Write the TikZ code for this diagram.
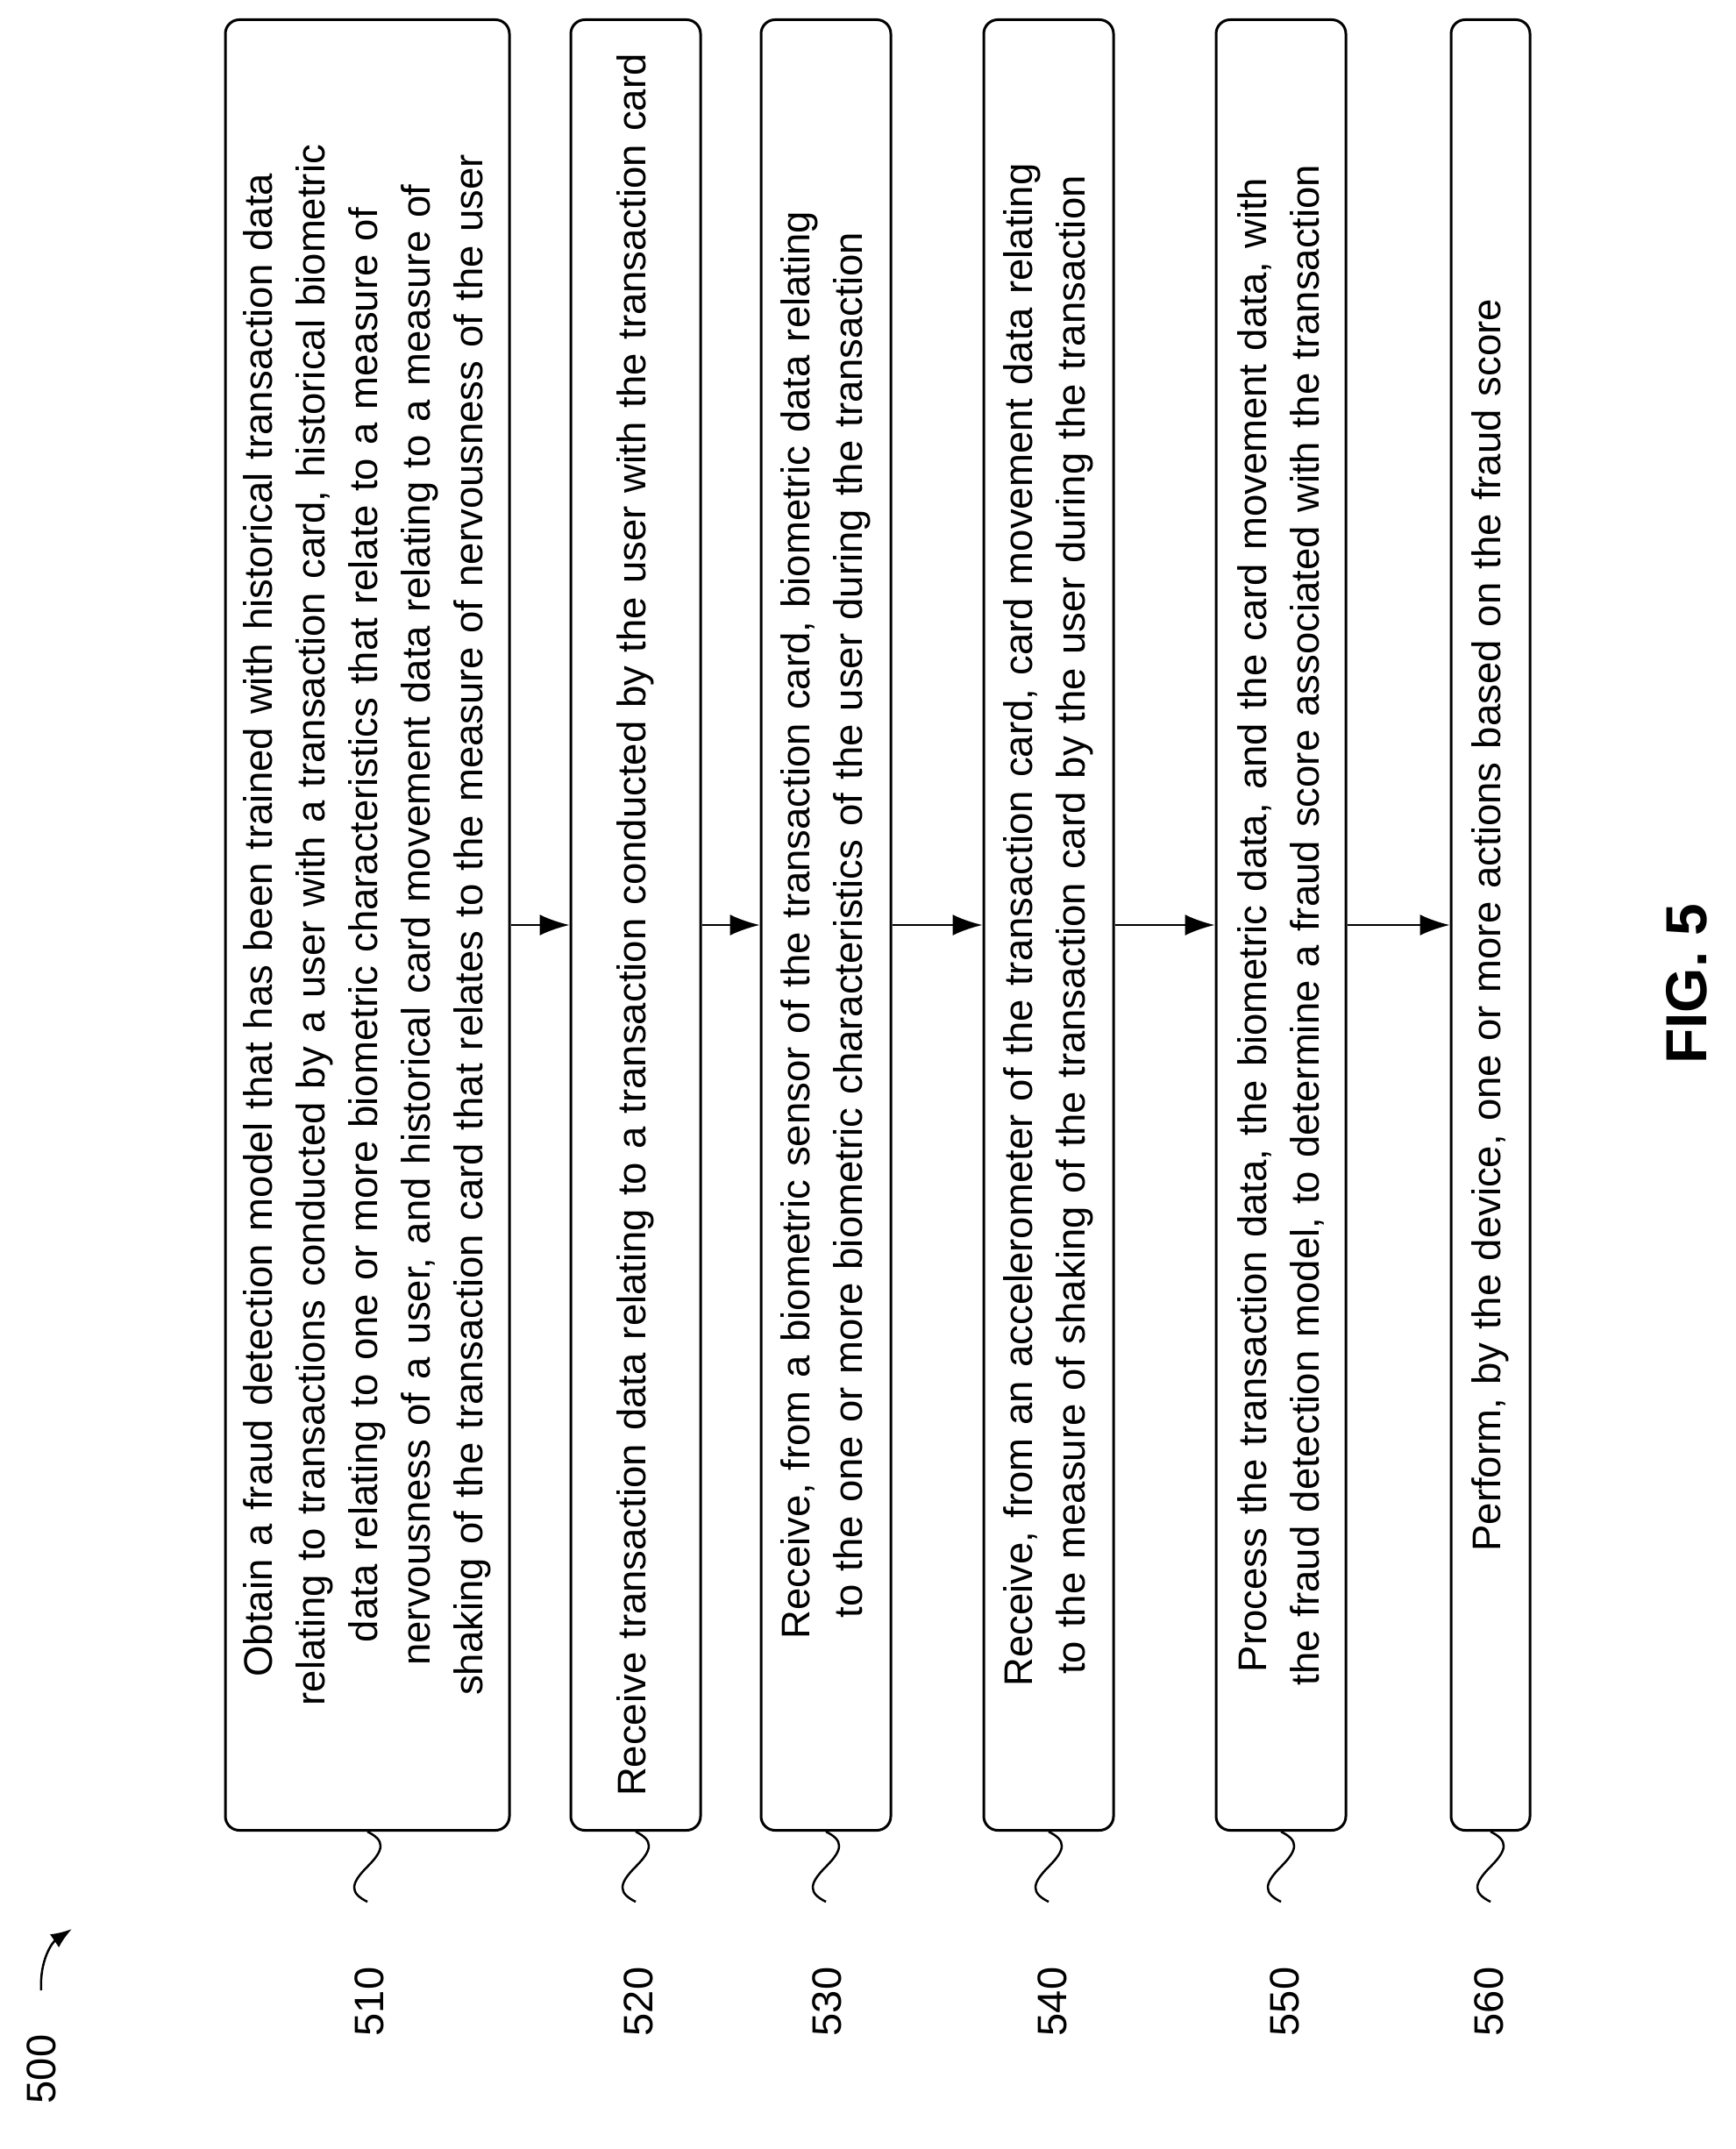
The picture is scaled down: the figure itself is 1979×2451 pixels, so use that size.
\documentclass[tikz,border=0pt]{standalone}
\usepackage{fontspec}
\setmainfont{Liberation Sans}
\usetikzlibrary{arrows.meta}
\newcommand\nohyph{\hyphenpenalty=10000 \exhyphenpenalty=10000 \relax}
\begin{document}
\begin{tikzpicture}[x=1pt,y=-1pt,
  stepbox/.style={draw,line width=3pt,rounded corners=16pt,rotate=90,
    minimum width=2065pt,inner xsep=6pt,inner ysep=8pt,align=center,text width=2052pt,
    font=\fontsize{45.5}{60}\selectfont\nohyph},
  lbl/.style={rotate=90,font=\fontsize{47}{56}\selectfont},
  arr/.style={line width=2.5pt,-{Latex[length=34pt,width=24pt]}},
  sq/.style={line width=2.5pt}]
\useasboundingbox (0,0) rectangle (1979,2451);
\node[stepbox,minimum height=324pt] (b1) at (419,1055) {Obtain a fraud detection model that has been trained with historical transaction data relating to transactions conducted by a user with a transaction card, historical biometric data relating to one or more biometric characteristics that relate to a measure of nervousness of a user, and historical card movement data relating to a measure of shaking of the transaction card that relates to the measure of nervousness of the user};
\node[stepbox,minimum height=148pt] (b2) at (725,1055) {Receive transaction data relating to a transaction conducted by the user with the transaction card};
\node[stepbox,minimum height=148pt] (b3) at (942,1055) {Receive, from a biometric sensor of the transaction card, biometric data relating to the one or more biometric characteristics of the user during the transaction};
\node[stepbox,minimum height=148pt] (b4) at (1196,1055) {Receive, from an accelerometer of the transaction card, card movement data relating to the measure of shaking of the transaction card by the user during the transaction};
\node[stepbox,minimum height=148pt] (b5) at (1461,1055) {Process the transaction data, the biometric data, and the card movement data, with the fraud detection model, to determine a fraud score associated with the transaction};
\node[stepbox,minimum height=90pt] (b6) at (1700,1055) {Perform, by the device, one or more actions based on the fraud score};
\foreach \a/\b in {b1/b2,b2/b3,b3/b4,b4/b5,b5/b6} \draw[arr] (\a.south) -- (\b.north);
\foreach \b/\t/\x in {b1/510/421,b2/520/728,b3/530/943,b4/540/1200,b5/550/1465,b6/560/1698}{
  \coordinate (s\b) at (\b.west);
  \draw[sq] (s\b) .. controls +(20,10) and +(20,-20) .. ++(0,40) .. controls +(-20,20) and +(-20,-10) .. ++(0,40);
  \node[lbl] (l\b) at (\x,2283) {\t};
}
\node[lbl] (n500) at (47,2360) {500};
\coordinate (a1) at (47,2270);
\coordinate (a2) at (82,2200);
\draw[line width=2.5pt,-{Latex[length=24pt,width=18pt]}] (a1) .. controls (45,2235) and (60,2215) .. (a2);
\node[rotate=90,font=\fontsize{66}{70}\selectfont\bfseries] (fig) at (1924,1122) {FIG. 5};
\end{tikzpicture}
\end{document}
